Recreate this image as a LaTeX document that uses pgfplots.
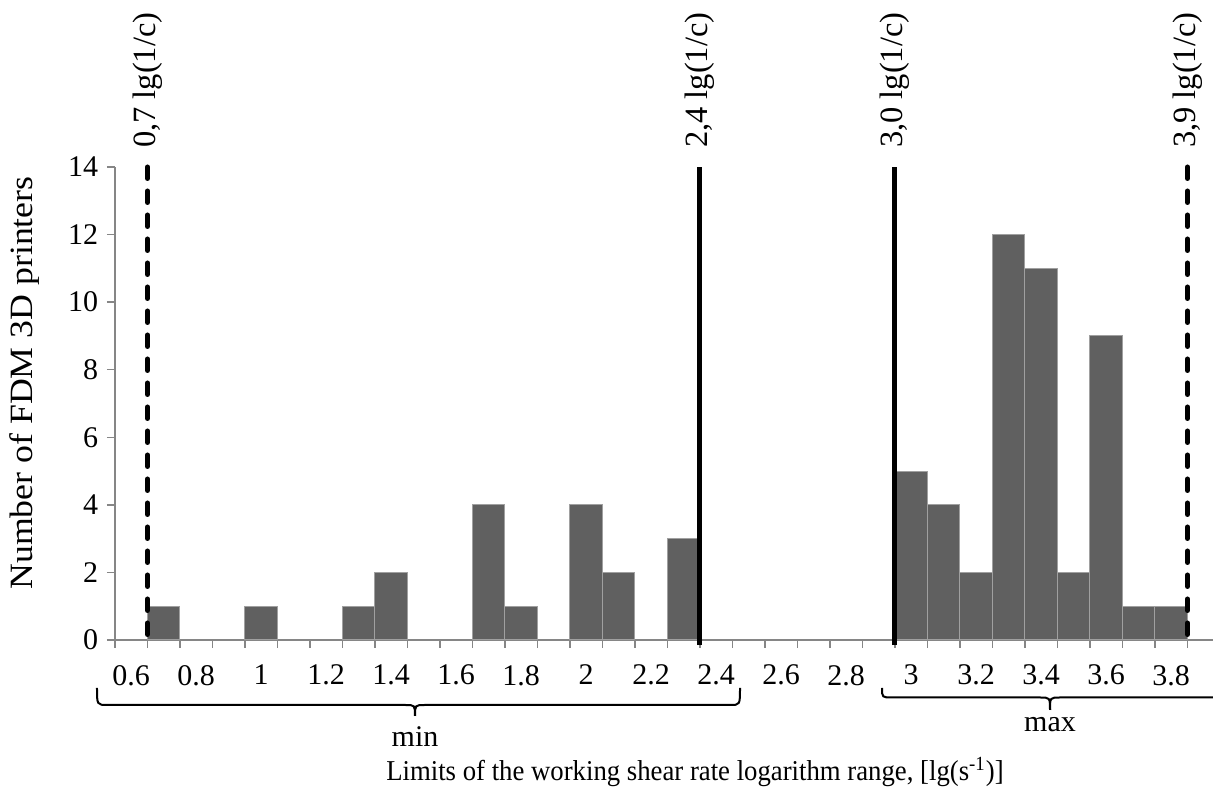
\documentclass[border=0pt]{standalone}
\usepackage{fontspec}
\setmainfont{Liberation Serif}
\usepackage{pgfplots}
\pgfplotsset{compat=1.18}
\definecolor{barfill}{RGB}{96,96,96}
\definecolor{axgray}{RGB}{134,134,134}
\definecolor{baredge}{RGB}{160,160,160}
\begin{document}
\begin{tikzpicture}[x=1pt,y=1pt]
\begin{axis}[
  at={(0,0)}, anchor=south west, scale only axis,
  width=439.2pt, height=189.2pt,
  xmin=0.55, xmax=3.9285, ymin=0, ymax=14,
  axis x line=bottom, axis y line=left,
  axis line style={axgray, line width=0.6pt, -},
  clip=false,
  tick align=outside,
  major tick length=3.2pt,
  tick style={axgray, line width=0.6pt},
  xtick={0.55,0.65,0.75,0.85,0.95,1.05,1.15,1.25,1.35,1.45,1.55,1.65,1.75,1.85,1.95,2.05,2.15,2.25,2.35,2.45,2.55,2.65,2.75,2.85,2.95,3.05,3.15,3.25,3.35,3.45,3.55,3.65,3.75,3.85},
  xticklabels={},
  extra x ticks={0.6,0.8,1,1.2,1.4,1.6,1.8,2,2.2,2.4,2.6,2.8,3,3.2,3.4,3.6,3.8},
  extra x tick labels={0.6,0.8,1,1.2,1.4,1.6,1.8,2,2.2,2.4,2.6,2.8,3,3.2,3.4,3.6,3.8},
  extra x tick style={major tick length=0pt, tick style={draw=none}, xticklabel style={yshift=-6.5pt}},
  ytick={0,2,4,6,8,10,12,14},
  yticklabels={0,2,4,6,8,10,12,14},
  ticklabel style={font=\fontsize{12}{14}\selectfont},
]
\addplot[ybar, bar width=0.1, bar shift=0pt, fill=barfill, draw=baredge, line width=0.4pt]
  coordinates {(0.7,1) (1.0,1) (1.3,1) (1.4,2) (1.7,4) (1.8,1) (2.0,4) (2.1,2) (2.3,3)
               (3.0,5) (3.1,4) (3.2,2) (3.3,12) (3.4,11) (3.5,2) (3.6,9) (3.7,1) (3.8,1)};
\addplot[black, line width=2pt, line cap=round, dash pattern=on 4.6pt off 5pt] coordinates {(0.65,14) (0.65,-0.15)};
\addplot[black, line width=2pt] coordinates {(2.35,-0.15) (2.35,14)};
\addplot[black, line width=2pt] coordinates {(2.95,-0.15) (2.95,14)};
\addplot[black, line width=2pt, line cap=round, dash pattern=on 4.6pt off 5pt] coordinates {(3.85,14) (3.85,-0.15)};
\node[rotate=90, anchor=west, inner sep=0pt, font=\fontsize{13}{15}\selectfont] at (axis cs:0.65,14.55) {0,7 lg(1/c)};
\node[rotate=90, anchor=west, inner sep=0pt, font=\fontsize{13}{15}\selectfont] at (axis cs:2.35,14.55) {2,4 lg(1/c)};
\node[rotate=90, anchor=west, inner sep=0pt, font=\fontsize{13}{15}\selectfont] at (axis cs:2.95,14.55) {3,0 lg(1/c)};
\node[rotate=90, anchor=west, inner sep=0pt, font=\fontsize{13}{15}\selectfont] at (axis cs:3.85,14.55) {3,9 lg(1/c)};
\end{axis}
% braces
\draw[line width=0.8pt] (-7.2,-19.2) .. controls (-7.2,-26) .. (-3,-26) -- (116,-26) .. controls (120,-26) .. (120,-30.4);
\draw[line width=0.8pt] (250,-19.2) .. controls (250,-26) .. (246,-26) -- (124,-26) .. controls (120,-26) .. (120,-30.4);
\node[font=\fontsize{12}{14}\selectfont] at (120,-38.8) {min};
\draw[line width=0.8pt] (306.8,-19.2) .. controls (306.8,-23) .. (311,-23) -- (370,-23) .. controls (374,-23) .. (374,-28);
\draw[line width=0.8pt] (470,-19.2) .. controls (470,-23) .. (466,-23) -- (378,-23) .. controls (374,-23) .. (374,-28);
\node[font=\fontsize{12}{14}\selectfont] at (374,-34) {max};
\node[rotate=90] at (-36,102.8) {\scalebox{1.1}[1]{\fontsize{13}{15}\selectfont Number of FDM 3D printers}};
\node at (232,-52.8) {\scalebox{0.93}[1]{\fontsize{11.5}{14}\selectfont Limits of the working shear rate logarithm range, [lg(s\textsuperscript{-1})]}};
\pgfresetboundingbox
\path[use as bounding box] (-46,-59.6) rectangle (439.2,256);
\end{tikzpicture}
\end{document}
